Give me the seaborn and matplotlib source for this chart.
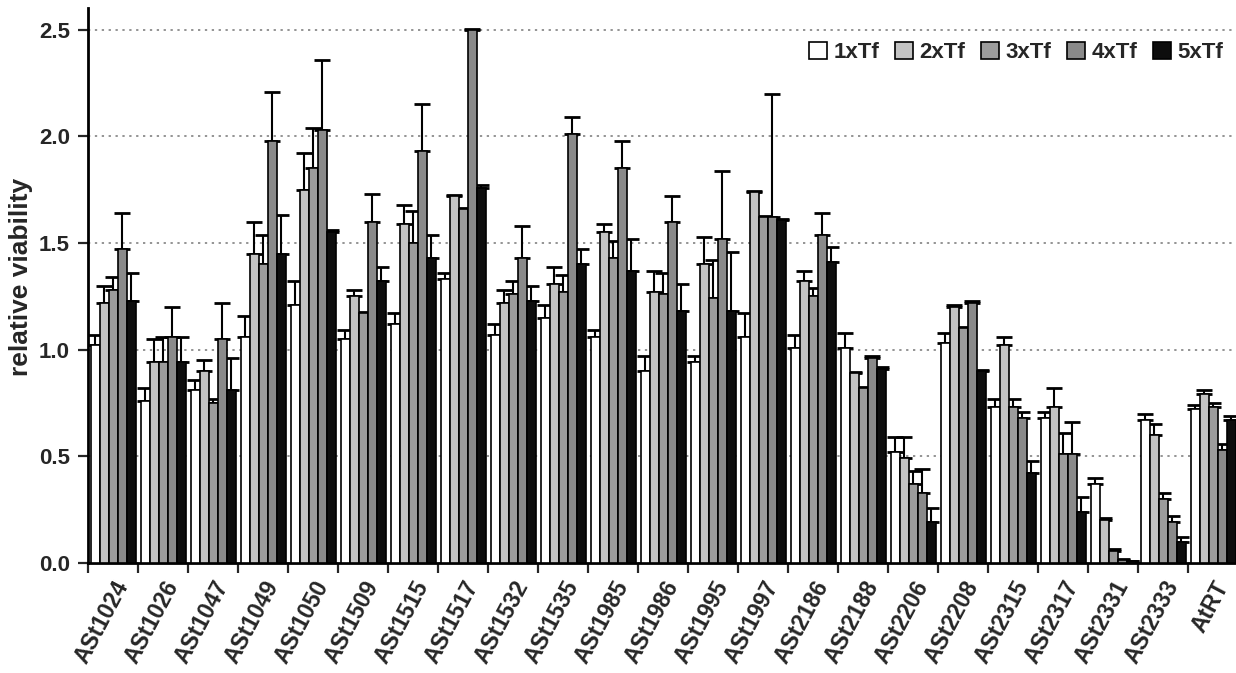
import numpy as np
import pandas as pd
import matplotlib
matplotlib.use("Agg")
import matplotlib.pyplot as plt
import seaborn as sns

categories = ["ASt1024", "ASt1026", "ASt1047", "ASt1049", "ASt1050", "ASt1509",
              "ASt1515", "ASt1517", "ASt1532", "ASt1535", "ASt1985", "ASt1986",
              "ASt1995", "ASt1997", "ASt2186", "ASt2188", "ASt2206", "ASt2208",
              "ASt2315", "ASt2317", "ASt2331", "ASt2333", "AtRT"]
series = ["1xTf", "2xTf", "3xTf", "4xTf", "5xTf"]

v1 = [1.02, 0.76, 0.81, 1.06, 1.21, 1.05, 1.12, 1.33, 1.07, 1.15, 1.06, 0.90,
      0.94, 1.06, 1.01, 1.01, 0.52, 1.03, 0.73, 0.68, 0.37, 0.67, 0.72]
v2 = [1.22, 0.94, 0.90, 1.45, 1.75, 1.25, 1.59, 1.72, 1.22, 1.31, 1.55, 1.27,
      1.40, 1.74, 1.32, 0.89, 0.49, 1.20, 1.02, 0.73, 0.20, 0.60, 0.79]
v3 = [1.28, 0.94, 0.75, 1.40, 1.85, 1.17, 1.50, 1.66, 1.26, 1.27, 1.43, 1.26,
      1.24, 1.62, 1.25, 0.82, 0.37, 1.10, 0.73, 0.51, 0.055, 0.30, 0.73]
v4 = [1.47, 1.06, 1.05, 1.98, 2.03, 1.60, 1.93, 2.50, 1.43, 2.01, 1.85, 1.60,
      1.52, 1.62, 1.54, 0.96, 0.33, 1.22, 0.68, 0.51, 0.015, 0.19, 0.53]
v5 = [1.23, 0.94, 0.81, 1.45, 1.55, 1.32, 1.43, 1.76, 1.23, 1.40, 1.37, 1.18,
      1.18, 1.61, 1.41, 0.91, 0.19, 0.90, 0.42, 0.24, 0.008, 0.10, 0.67]

e1 = [0.05, 0.06, 0.05, 0.10, 0.11, 0.04, 0.05, 0.03, 0.05, 0.06, 0.03, 0.07,
      0.03, 0.11, 0.06, 0.07, 0.07, 0.05, 0.04, 0.03, 0.03, 0.03, 0.02]
e2 = [0.08, 0.11, 0.05, 0.15, 0.17, 0.03, 0.09, 0.005, 0.06, 0.08, 0.04, 0.10,
      0.13, 0.005, 0.05, 0.005, 0.10, 0.01, 0.04, 0.09, 0.01, 0.05, 0.02]
e3 = [0.06, 0.12, 0.02, 0.14, 0.19, 0.005, 0.15, 0.005, 0.06, 0.08, 0.08, 0.10,
      0.18, 0.005, 0.04, 0.005, 0.06, 0.005, 0.04, 0.10, 0.01, 0.03, 0.02]
e4 = [0.17, 0.14, 0.17, 0.23, 0.33, 0.13, 0.22, 0.005, 0.15, 0.08, 0.13, 0.12,
      0.32, 0.58, 0.10, 0.01, 0.11, 0.01, 0.03, 0.15, 0.005, 0.03, 0.03]
e5 = [0.13, 0.12, 0.15, 0.18, 0.01, 0.07, 0.11, 0.01, 0.07, 0.07, 0.15, 0.13,
      0.28, 0.005, 0.07, 0.01, 0.07, 0.005, 0.06, 0.07, 0.002, 0.02, 0.02]

colors = ["#ffffff", "#c4c4c4", "#9c9c9c", "#8a8a8a", "#0d0d0d"]

values = [v1, v2, v3, v4, v5]
errors = [e1, e2, e3, e4, e5]

rows = []
for s, vals in zip(series, values):
    for c, v in zip(categories, vals):
        rows.append({"cat": c, "series": s, "val": v})
df = pd.DataFrame(rows)

sns.set_style("ticks")
plt.rcParams["font.family"] = ["Liberation Sans", "DejaVu Sans"]
plt.rcParams["font.weight"] = "bold"

fig = plt.figure(figsize=(12.36, 6.73), dpi=100)
ax = fig.add_axes([88 / 1236, 110 / 673, 1150 / 1236, 554.6 / 673])

sns.barplot(data=df, x="cat", y="val", hue="series", palette=colors,
            order=categories, hue_order=series, width=0.9, gap=0,
            edgecolor="black", linewidth=1.2, errorbar=None, ax=ax, zorder=3)

for cont, errs in zip(ax.containers, errors):
    xs = [b.get_x() + b.get_width() / 2 for b in cont]
    ys = [b.get_height() for b in cont]
    ax.errorbar(xs, ys, yerr=[np.zeros(len(errs)), errs], fmt="none",
                ecolor="black", elinewidth=1.5, capsize=6, capthick=2.0,
                zorder=2)

ax.set_ylim(0, 2.6)
ax.set_xlim(-0.5, 22.5)
ax.set_yticks([0, 0.5, 1.0, 1.5, 2.0, 2.5])
ax.set_yticklabels([f"{t:.1f}" for t in [0, 0.5, 1.0, 1.5, 2.0, 2.5]],
                   fontsize=16, fontweight="bold")
ax.yaxis.grid(True, linestyle=(0, (1.5, 3)), color="#777777", linewidth=1.1, zorder=0)
ax.set_axisbelow(True)

ax.set_xlabel("")
ax.set_ylabel("relative viability", fontsize=19, fontweight="bold", labelpad=4)
ax.yaxis.label.set_y(0.515)

ax.set_xticks(np.arange(-0.5, 23, 1.0), minor=True)
ax.tick_params(axis="x", which="minor", length=7, width=1.6, direction="out")
ax.tick_params(axis="x", which="major", length=0, pad=10)
ax.tick_params(axis="y", which="major", length=7, width=1.6, direction="out", pad=6)
plt.setp(ax.get_xticklabels(), rotation=62, ha="right", rotation_mode="anchor",
         fontsize=16.5, fontweight="bold")

for sp in ["top", "right"]:
    ax.spines[sp].set_visible(False)
for sp in ["left", "bottom"]:
    ax.spines[sp].set_linewidth(2.0)
    ax.spines[sp].set_color("black")

handles, labels = ax.get_legend_handles_labels()
leg = ax.legend(handles, labels, ncol=5, loc="upper right",
                bbox_to_anchor=(0.987, 0.94), frameon=False,
                fontsize=16, handlelength=0.8, handleheight=0.8,
                handletextpad=0.3, columnspacing=0.7, borderaxespad=0,
                borderpad=0)
for t in leg.get_texts():
    t.set_fontweight("bold")

fig.savefig("out.png", dpi=100)
